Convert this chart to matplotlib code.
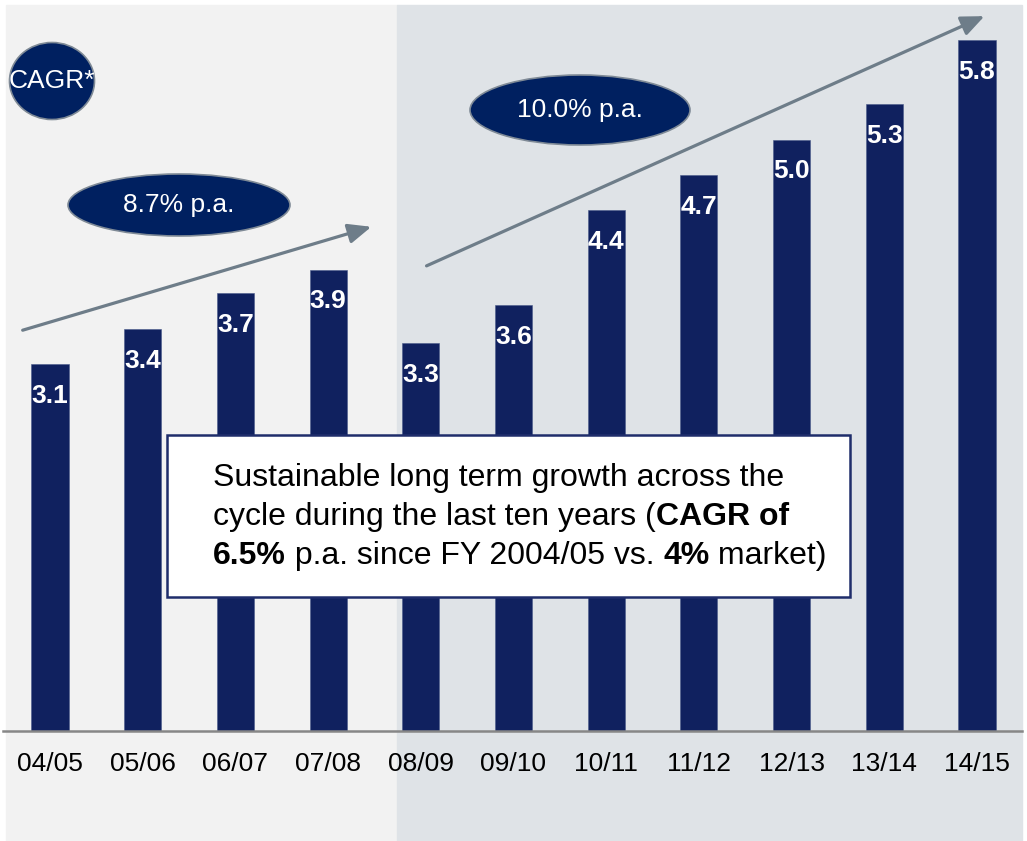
import matplotlib
matplotlib.use('Agg')
import matplotlib.pyplot as plt
from matplotlib.patches import Rectangle, Ellipse

plt.rcParams['font.family'] = ['Liberation Sans', 'DejaVu Sans']

years = ['04/05', '05/06', '06/07', '07/08', '08/09', '09/10',
         '10/11', '11/12', '12/13', '13/14', '14/15']
values = [3.1, 3.4, 3.7, 3.9, 3.28, 3.6, 4.4, 4.7, 5.0, 5.3, 5.84]
cagr_labels = ['8.7% p.a.', '10.0% p.a.']

W, H = 1027, 841
fig = plt.figure(figsize=(W / 100, H / 100), dpi=100)
ax = fig.add_axes([0, 0, 1, 1])
ff = fig.transFigure

# pixel helpers (row measured from the top)
def fx(x):
    return x / W

def fy(r):
    return (H - r) / H

# scale: bar i centred at 50 + 92.7*i px, value 0 at row 730.5, 118.2 px per unit
ax.set_xlim(-50 / 92.7, (W - 50) / 92.7)
ax.set_ylim(-(H - 730.5) / 118.2, 730.5 / 118.2)
ax.axis('off')

# background panels
ax.add_patch(Rectangle((fx(6), fy(841)), fx(397) - fx(6), fy(5) - fy(841),
                       transform=ff, color='#f2f2f2', zorder=0))
ax.add_patch(Rectangle((fx(397), fy(841)), fx(1022) - fx(397), fy(5) - fy(841),
                       transform=ff, color='#dfe3e7', zorder=0))

x = list(range(len(years)))
ax.bar(x, values, width=0.4, color='#10215f', edgecolor='#4a5a8a', linewidth=0.4, zorder=3)
ax.plot([fx(3), fx(1022)], [fy(730.5), fy(730.5)], transform=ff, color='#878787',
        lw=1.8, zorder=4)

for i, v in enumerate(values):
    ax.annotate(f'{v:.1f}', (i, v), xytext=(0, -23), textcoords='offset points',
                ha='center', va='center', color='white', fontsize=19,
                fontweight='bold', zorder=5)
    ax.annotate(years[i], (i, 0), xytext=(0, -24), textcoords='offset points',
                ha='center', va='center', color='black', fontsize=19, zorder=5)

# trend arrows
arrow_kw = dict(arrowstyle='-|>,head_length=1.4,head_width=0.6', color='#6e7d89', lw=2.3)
ax.annotate('', xy=(fx(374), fy(226)), xytext=(fx(20), fy(331)),
            xycoords='figure fraction', textcoords='figure fraction', arrowprops=arrow_kw, zorder=6)
ax.annotate('', xy=(fx(987), fy(15)), xytext=(fx(424), fy(267)),
            xycoords='figure fraction', textcoords='figure fraction', arrowprops=arrow_kw, zorder=6)

# CAGR ellipses
ell_fill = '#002060'
ell_edge = '#7f8a96'
for (cx, cy, w, h, label) in [(52, 81, 85, 77, 'CAGR*'),
                              (179, 205, 222, 62, cagr_labels[0]),
                              (580, 110, 220, 70, cagr_labels[1])]:
    ax.add_patch(Ellipse((fx(cx), fy(cy)), w / W, h / H, transform=ff,
                         facecolor=ell_fill, edgecolor=ell_edge, lw=1.2, zorder=7))
    ax.text(fx(cx), fy(cy), label, transform=ff, color='white', fontsize=19,
            ha='center', va='center', zorder=8)

# text box
ax.add_patch(Rectangle((fx(167), fy(597)), fx(850) - fx(167), fy(435) - fy(597),
                       transform=ff, facecolor='white', edgecolor='#1f2d6b', lw=1.8, zorder=9))

renderer = fig.canvas.get_renderer()

def draw_runs(x0, r, runs, size=23):
    xpos = fx(x0)
    for s, bold in runs:
        t = ax.text(xpos, fy(r), s, transform=ff, fontsize=size, va='center', ha='left',
                    fontweight='bold' if bold else 'normal', color='black', zorder=10)
        bb = t.get_window_extent(renderer)
        xpos += bb.width / W

draw_runs(213, 478, [('Sustainable long term growth across the', False)])
draw_runs(213, 517, [('cycle during the last ten years (', False), ('CAGR of', True)])
draw_runs(213, 556, [('6.5%', True), (' p.a. since FY 2004/05 vs. ', False),
                     ('4%', True), (' market)', False)])

fig.savefig('out.png', dpi=100)
